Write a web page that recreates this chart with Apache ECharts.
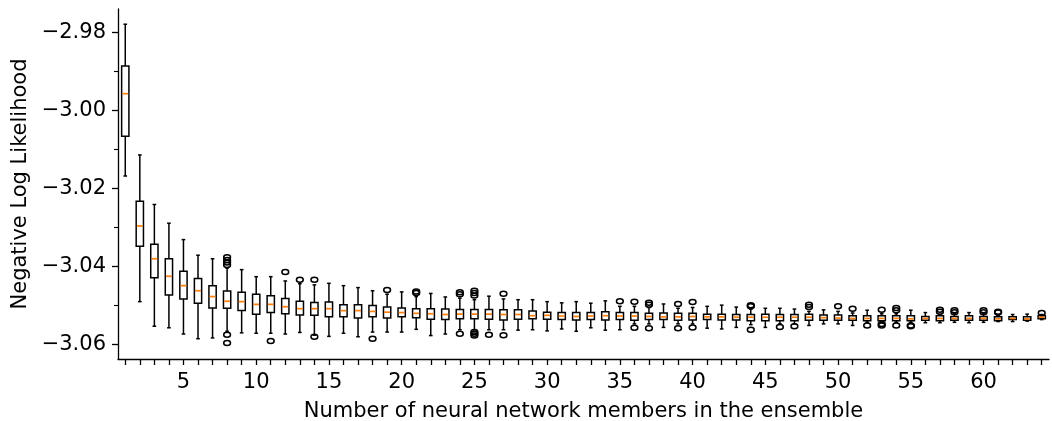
<!DOCTYPE html>
<html><head><meta charset="utf-8">
<script src="https://cdn.jsdelivr.net/npm/echarts@6/dist/echarts.min.js"></script>
<style>html,body{margin:0;padding:0;background:#fff}#c{width:1052px;height:421px}</style>
</head><body><div id="c"></div>
<script>
const categories = ['1','2','3','4','5','6','7','8','9','10','11','12','13','14','15','16','17','18','19','20','21','22','23','24','25','26','27','28','29','30','31','32','33','34','35','36','37','38','39','40','41','42','43','44','45','46','47','48','49','50','51','52','53','54','55','56','57','58','59','60','61','62','63','64'];

const whiskerLow = [-3.0168,-3.0490,-3.0553,-3.0557,-3.0573,-3.0585,-3.0583,-3.0566,-3.0570,-3.0571,
  -3.0571,-3.0573,-3.0569,-3.0576,-3.0579,-3.0571,-3.0580,-3.0568,-3.0568,-3.0568,
  -3.0561,-3.0577,-3.0573,-3.0562,-3.0562,-3.0562,-3.0562,-3.0563,-3.0562,-3.0565,
  -3.0560,-3.0566,-3.0557,-3.0563,-3.0562,-3.0547,-3.0547,-3.0556,-3.0547,-3.0547,
  -3.0558,-3.0560,-3.0556,-3.0549,-3.0556,-3.0547,-3.0547,-3.0551,-3.0547,-3.0547,
  -3.0551,-3.0543,-3.0543,-3.0543,-3.0543,-3.0544,-3.0544,-3.0543,-3.0544,-3.0543,
  -3.0541,-3.0541,-3.0540,-3.0536];
const q1 = [-3.0066,-3.0348,-3.0429,-3.0473,-3.0483,-3.0494,-3.0506,-3.0507,-3.0513,-3.0522,
  -3.0518,-3.0521,-3.0524,-3.0525,-3.0529,-3.0529,-3.0532,-3.0529,-3.0532,-3.0529,
  -3.0531,-3.0535,-3.0536,-3.0534,-3.0534,-3.0535,-3.0537,-3.0535,-3.0534,-3.0535,
  -3.0536,-3.0537,-3.0536,-3.0537,-3.0536,-3.0538,-3.0536,-3.0536,-3.0538,-3.0537,
  -3.0536,-3.0537,-3.0537,-3.0539,-3.0539,-3.0539,-3.0539,-3.0538,-3.0538,-3.0538,
  -3.0538,-3.0539,-3.0539,-3.0539,-3.0539,-3.0538,-3.0539,-3.0538,-3.0538,-3.0538,
  -3.0539,-3.0536,-3.0538,-3.0534];
const median = [-2.9957,-3.0296,-3.0380,-3.0425,-3.0449,-3.0462,-3.0477,-3.0489,-3.0490,-3.0497,
  -3.0497,-3.0503,-3.0508,-3.0508,-3.0508,-3.0513,-3.0513,-3.0515,-3.0517,-3.0518,
  -3.0520,-3.0521,-3.0523,-3.0522,-3.0522,-3.0522,-3.0523,-3.0523,-3.0526,-3.0525,
  -3.0527,-3.0528,-3.0527,-3.0526,-3.0527,-3.0527,-3.0528,-3.0529,-3.0529,-3.0528,
  -3.0529,-3.0529,-3.0530,-3.0530,-3.0530,-3.0530,-3.0530,-3.0530,-3.0531,-3.0532,
  -3.0533,-3.0533,-3.0533,-3.0533,-3.0534,-3.0533,-3.0533,-3.0533,-3.0533,-3.0533,
  -3.0534,-3.0533,-3.0534,-3.0530];
const q3 = [-2.9886,-3.0233,-3.0343,-3.0380,-3.0412,-3.0431,-3.0449,-3.0463,-3.0466,-3.0471,
  -3.0475,-3.0482,-3.0489,-3.0492,-3.0491,-3.0498,-3.0498,-3.0500,-3.0504,-3.0506,
  -3.0508,-3.0508,-3.0509,-3.0510,-3.0510,-3.0510,-3.0511,-3.0511,-3.0514,-3.0517,
  -3.0518,-3.0518,-3.0518,-3.0516,-3.0518,-3.0518,-3.0520,-3.0519,-3.0520,-3.0520,
  -3.0522,-3.0522,-3.0523,-3.0523,-3.0522,-3.0523,-3.0523,-3.0522,-3.0524,-3.0524,
  -3.0526,-3.0526,-3.0526,-3.0526,-3.0526,-3.0528,-3.0526,-3.0528,-3.0526,-3.0528,
  -3.0529,-3.0529,-3.0529,-3.0526];
const whiskerHigh = [-2.9779,-3.0114,-3.0241,-3.0289,-3.0331,-3.0371,-3.0380,-3.0404,-3.0408,-3.0426,
  -3.0426,-3.0437,-3.0444,-3.0447,-3.0443,-3.0449,-3.0454,-3.0462,-3.0471,-3.0465,
  -3.0477,-3.0469,-3.0478,-3.0481,-3.0485,-3.0476,-3.0483,-3.0485,-3.0485,-3.0490,
  -3.0493,-3.0490,-3.0494,-3.0488,-3.0502,-3.0502,-3.0505,-3.0496,-3.0507,-3.0505,
  -3.0502,-3.0499,-3.0504,-3.0509,-3.0507,-3.0507,-3.0509,-3.0515,-3.0511,-3.0515,
  -3.0519,-3.0512,-3.0521,-3.0521,-3.0512,-3.0518,-3.0523,-3.0521,-3.0518,-3.0521,
  -3.0526,-3.0523,-3.0522,-3.0523];
// outliers: [category number, value]
const outliers = [
  [8,-3.0376],[8,-3.0383],[8,-3.0390],[8,-3.0396],[8,-3.0575],[8,-3.0596],
  [11,-3.0591],[12,-3.0414],[13,-3.0434],[14,-3.0434],[14,-3.0580],[18,-3.0585],
  [19,-3.0460],[21,-3.0464],[21,-3.0468],[24,-3.0466],[24,-3.0471],[24,-3.0572],
  [25,-3.0462],[25,-3.0468],[25,-3.0474],[25,-3.0568],[25,-3.0572],[25,-3.0577],
  [26,-3.0575],[27,-3.0470],[27,-3.0576],
  [35,-3.0489],[36,-3.0490],[36,-3.0557],[37,-3.0493],[37,-3.0498],[37,-3.0558],
  [39,-3.0496],[39,-3.0558],[40,-3.0491],[40,-3.0556],[44,-3.0499],[44,-3.0502],[44,-3.0562],
  [46,-3.0555],[47,-3.0553],[48,-3.0498],[48,-3.0504],[50,-3.0502],[51,-3.0508],[52,-3.0551],
  [53,-3.0511],[53,-3.0547],[53,-3.0551],[54,-3.0506],[54,-3.0512],[54,-3.0551],
  [55,-3.0551],[55,-3.0553],[57,-3.0511],[57,-3.0516],[58,-3.0512],[58,-3.0517],
  [60,-3.0512],[60,-3.0517],[61,-3.0516],[61,-3.0518],[64,-3.0519]
];
const yTickValues = [-3.06,-3.04,-3.02,-3.00,-2.98];
const yMinorTickValues = [-3.05,-3.03,-3.01,-2.99];
const xTickLabels = ['5','10','15','20','25','30','35','40','45','50','55','60'];

const FONT = 'DejaVu Sans';
const chart = echarts.init(document.getElementById('c'), null, {renderer:'canvas'});
const boxData = categories.map((c,i)=>[i, whiskerLow[i], q1[i], median[i], q3[i], whiskerHigh[i]]);
const outData = outliers.map(o=>[o[0]-1, o[1]]);
const LW = 1.5;
function boxItem(params, api){
  const x = api.value(0);
  const pLow = api.coord([x, api.value(1)]);
  const pQ1 = api.coord([x, api.value(2)]);
  const pMed = api.coord([x, api.value(3)]);
  const pQ3 = api.coord([x, api.value(4)]);
  const pHigh = api.coord([x, api.value(5)]);
  const band = api.size([1,0])[0];
  const cx = pLow[0];
  const hw = band*0.25, cw = band*0.125;
  const st = {stroke:'#000', lineWidth:LW, fill:null};
  return {type:'group', children:[
    {type:'line', shape:{x1:cx,y1:pHigh[1],x2:cx,y2:pQ3[1]}, style:st},
    {type:'line', shape:{x1:cx,y1:pQ1[1],x2:cx,y2:pLow[1]}, style:st},
    {type:'line', shape:{x1:cx-cw,y1:pHigh[1],x2:cx+cw,y2:pHigh[1]}, style:st},
    {type:'line', shape:{x1:cx-cw,y1:pLow[1],x2:cx+cw,y2:pLow[1]}, style:st},
    {type:'rect', shape:{x:cx-hw,y:pQ3[1],width:2*hw,height:pQ1[1]-pQ3[1]}, style:{stroke:'#000',lineWidth:LW,fill:'none'}},
    {type:'line', shape:{x1:cx-hw+0.7,y1:pMed[1],x2:cx+hw-0.7,y2:pMed[1]}, style:{stroke:'#ff7f0e',lineWidth:1.7}}
  ]};
}
function outItem(params, api){
  const p = api.coord([api.value(0), api.value(1)]);
  return {type:'ellipse', shape:{cx:p[0], cy:p[1], rx:3.4, ry:2.5}, style:{stroke:'#000', lineWidth:1.5, fill:'none'}};
}
const yLabelFmt = v => v.toFixed(2).replace('-', '\u2212');
chart.setOption({
  animation:false,
  backgroundColor:'#fff',
  grid:{left:118, right:3, top:9, bottom:62, containLabel:false, outerBoundsMode:'none'},
  xAxis:{type:'category', data:categories, boundaryGap:true,
    name:'Number of neural network members in the ensemble', nameLocation:'middle', nameGap:42,
    nameTextStyle:{fontFamily:FONT, fontSize:21, color:'#000'},
    axisLine:{show:true, lineStyle:{color:'#000', width:1.3}},
    axisTick:{show:true, alignWithLabel:true, interval:0, length:6, lineStyle:{color:'#000', width:1.3}},
    axisLabel:{show:true, interval:(i,v)=>xTickLabels.includes(v), fontFamily:FONT, fontSize:21, color:'#000', margin:13},
    splitLine:{show:false}},
  yAxis:[{type:'value', min:-3.0637, max:-2.974, position:'left',
    name:'Negative Log Likelihood', nameLocation:'middle', nameGap:86, nameRotate:90,
    nameTextStyle:{fontFamily:FONT, fontSize:21, color:'#000'},
    axisLine:{show:true, lineStyle:{color:'#000', width:1.3}},
    axisTick:{show:true, customValues:yTickValues, length:6, lineStyle:{color:'#000', width:1.3}},
    axisLabel:{show:true, customValues:yTickValues, formatter:yLabelFmt, fontFamily:FONT, fontSize:21, color:'#000', margin:12},
    splitLine:{show:false}},
   {type:'value', min:-3.0637, max:-2.974, position:'left',
    axisLine:{show:false},
    axisTick:{show:true, customValues:yMinorTickValues, length:4, lineStyle:{color:'#000', width:1.1}},
    axisLabel:{show:false}, splitLine:{show:false}}],
  series:[
    {type:'custom', renderItem:boxItem, data:boxData, encode:{x:0, y:[1,2,3,4,5]}, z:2},
    {type:'custom', renderItem:outItem, data:outData, encode:{x:0, y:1}, z:3}
  ]
});
</script></body></html>
